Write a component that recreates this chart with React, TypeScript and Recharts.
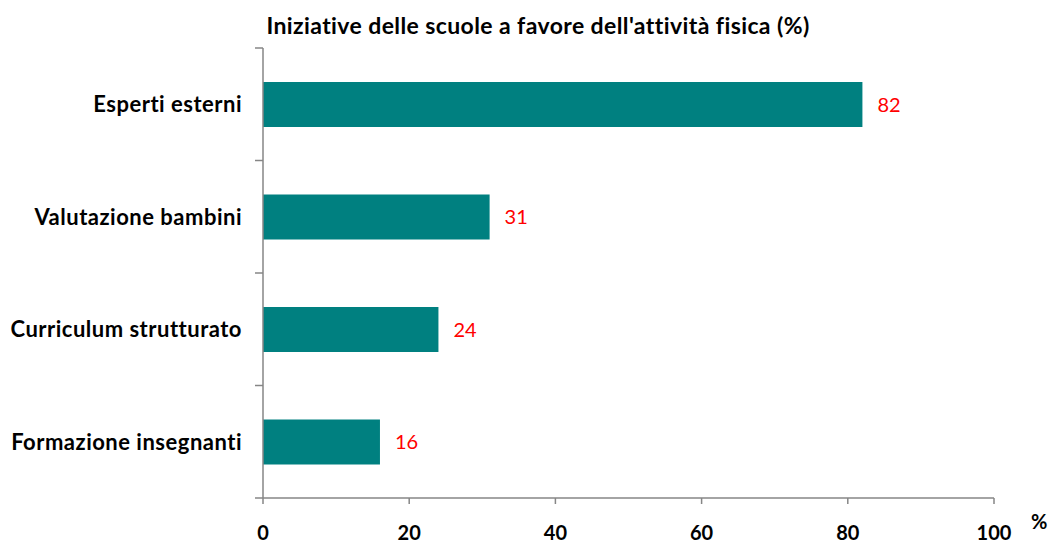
import React from 'react';
import { BarChart, Bar, XAxis, YAxis, LabelList } from 'recharts';

const categories = ['Esperti esterni', 'Valutazione bambini', 'Curriculum strutturato', 'Formazione insegnanti'];
const values = [82, 31, 24, 16];
const xTicks = [0, 20, 40, 60, 80, 100];

const data = categories.map((name, i) => ({ name, value: values[i] }));

const FONT = 'Lato, "Open Sans", sans-serif';
const AXIS = '#868686';

function CategoryTick(props: any) {
  const { x, y, payload, index, visibleTicksCount } = props;
  const half = payload?.offset ?? 0;
  const isLast = index === visibleTicksCount - 1;
  return (
    <g>
      <line x1={263} x2={255} y1={y - half} y2={y - half} stroke={AXIS} strokeWidth={1.5} />
      {isLast && <line x1={263} x2={255} y1={y + half} y2={y + half} stroke={AXIS} strokeWidth={1.5} />}
      <text
        x={x}
        y={y}
        dy="0.355em"
        textAnchor="end"
        fontFamily={FONT}
        fontWeight={700}
        fontSize={22}
        letterSpacing={0.5}
        fill="#000"
      >
        {payload.value}
      </text>
    </g>
  );
}

export default function App() {
  return (
    <div style={{ position: 'absolute', left: 0, top: 0, width: 1052, height: 544, background: '#fff' }}>
      <div
        style={{
          position: 'absolute',
          left: 0,
          width: 1076,
          top: 11,
          textAlign: 'center',
          fontFamily: FONT,
          fontWeight: 700,
          fontSize: 23,
          letterSpacing: 0.4,
          color: '#000',
          whiteSpace: 'nowrap',
        }}
      >
        Iniziative delle scuole a favore dell'attività fisica (%)
      </div>
      <div
        style={{
          position: 'absolute',
          left: 1031,
          top: 509,
          fontFamily: FONT,
          fontWeight: 700,
          fontSize: 20,
          color: '#000',
        }}
      >
        %
      </div>
      <BarChart
        width={1052}
        height={544}
        data={data}
        layout="vertical"
        margin={{ top: 48, right: 58, bottom: 0, left: 0 }}
      >
        <XAxis
          type="number"
          domain={[0, 100]}
          ticks={xTicks}
          height={46}
          stroke={AXIS}
          axisLine={{ stroke: AXIS, strokeWidth: 1.5 }}
          tickLine={{ stroke: AXIS, strokeWidth: 1.5 }}
          tickSize={6}
          tickMargin={22}
          tick={{ fill: '#000', fontFamily: FONT, fontWeight: 700, fontSize: 20 }}
        />
        <YAxis
          type="category"
          dataKey="name"
          width={263}
          axisLine={{ stroke: AXIS, strokeWidth: 1.5 }}
          tickLine={false}
          tickSize={0}
          tickMargin={21}
          tick={<CategoryTick />}
        />
        <Bar dataKey="value" fill="#008080" barSize={45} isAnimationActive={false}>
          <LabelList
            dataKey="value"
            position="right"
            offset={15}
            fill="#ff0000"
            fontFamily={FONT}
            fontSize={20}
          />
        </Bar>
      </BarChart>
    </div>
  );
}
